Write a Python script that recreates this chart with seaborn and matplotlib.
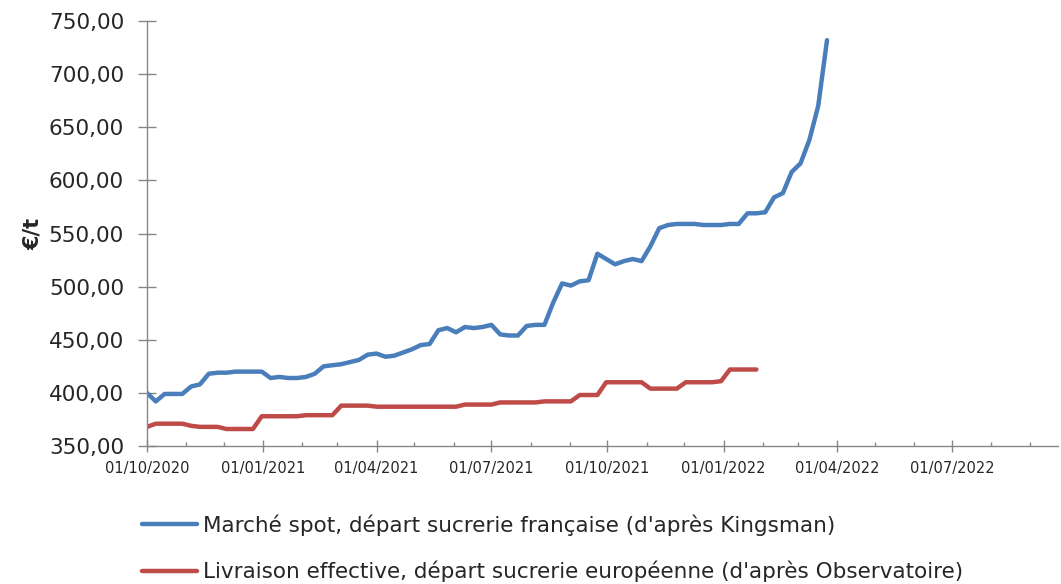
import pandas as pd
import matplotlib
matplotlib.use('Agg')
import matplotlib.pyplot as plt
import matplotlib.dates as mdates
import seaborn as sns
from matplotlib.ticker import FuncFormatter

# DONNEES HEBDOMADAIRES
spot = [400, 392, 399, 399, 399, 406, 408, 418, 419, 419,
        420, 420, 420, 420, 414, 415, 414, 414, 415, 418,
        425, 426, 427, 429, 431, 436, 437, 434, 435, 438,
        441, 445, 446, 459, 461, 457, 462, 461, 462, 464,
        455, 454, 454, 463, 464, 464, 485, 503, 501, 505,
        506, 531, 526, 521, 524, 526, 524, 538, 555, 558,
        559, 559, 559, 558, 558, 558, 559, 559, 569,
        569, 570, 584, 588, 608, 616, 638, 670, 732]

livraison = [368, 371, 371, 371, 371, 369, 368, 368, 368, 366,
             366, 366, 366, 378, 378, 378, 378, 378, 379, 379,
             379, 379, 388, 388, 388, 388, 387, 387, 387, 387,
             387, 387, 387, 387, 387, 387, 389, 389, 389, 389,
             391, 391, 391, 391, 391, 392, 392, 392, 392, 398,
             398, 398, 410, 410, 410, 410, 410, 404, 404, 404,
             404, 410, 410, 410, 410, 411, 422, 422, 422, 422]

label_spot = "Marché spot, départ sucrerie française (d'après Kingsman)"
label_livr = "Livraison effective, départ sucrerie européenne (d'après Observatoire)"

dates_spot = pd.date_range('2020-10-01', periods=len(spot), freq='7D')
dates_livr = pd.date_range('2020-10-01', periods=len(livraison), freq='7D')

df = pd.concat([
    pd.DataFrame({'date': dates_spot, 'prix': spot, 'serie': label_spot}),
    pd.DataFrame({'date': dates_livr, 'prix': livraison, 'serie': label_livr}),
])

sns.set_theme(style='white')
plt.rcParams['font.family'] = ['DejaVu Sans']

fig = plt.figure(figsize=(10.61, 5.84), dpi=100)
ax = fig.add_axes([0.1385, 0.2363, 0.8586, 0.7277])

sns.lineplot(data=df, x='date', y='prix', hue='serie',
             palette=['#4A7EBB', '#BE4B48'], linewidth=3.2, ax=ax, legend=False)

ax.set_ylim(350, 750)
ax.set_xlim(pd.Timestamp('2020-10-01'), pd.Timestamp('2022-09-23'))
ax.set_yticks(range(350, 751, 50))
ax.yaxis.set_major_formatter(FuncFormatter(lambda v, p: f'{v:.2f}'.replace('.', ',')))

ax.xaxis.set_major_locator(mdates.MonthLocator(bymonth=[1, 4, 7, 10]))
ax.xaxis.set_minor_locator(mdates.MonthLocator())
ax.xaxis.set_major_formatter(mdates.DateFormatter('%d/%m/%Y'))

for s in ['top', 'right']:
    ax.spines[s].set_visible(False)
for s in ['left', 'bottom']:
    ax.spines[s].set_color('#868686')
    ax.spines[s].set_linewidth(1)

ax.tick_params(axis='y', which='major', direction='inout', length=13, width=1,
               color='#868686', labelsize=15.5, labelcolor='#262626', pad=10, left=True)
ax.tick_params(axis='x', which='major', direction='inout', length=9, width=1,
               color='#868686', labelsize=10.5, labelcolor='#262626', pad=6, bottom=True)
ax.tick_params(axis='x', which='minor', direction='in', length=3, width=1,
               color='#868686', bottom=True)

ax.set_xlabel('')
ax.set_ylabel('€/t', fontsize=15, fontweight='bold', color='#262626', labelpad=4)

lignes = ax.get_lines()
fig.legend(lignes[:2], [label_spot, label_livr], loc='upper left',
           bbox_to_anchor=(0.126, 0.1346), frameon=False, fontsize=15.5,
           handlelength=2.55, handletextpad=0.25, labelspacing=1.17,
           labelcolor='#262626', borderaxespad=0)

plt.savefig('out.png', dpi=100)
